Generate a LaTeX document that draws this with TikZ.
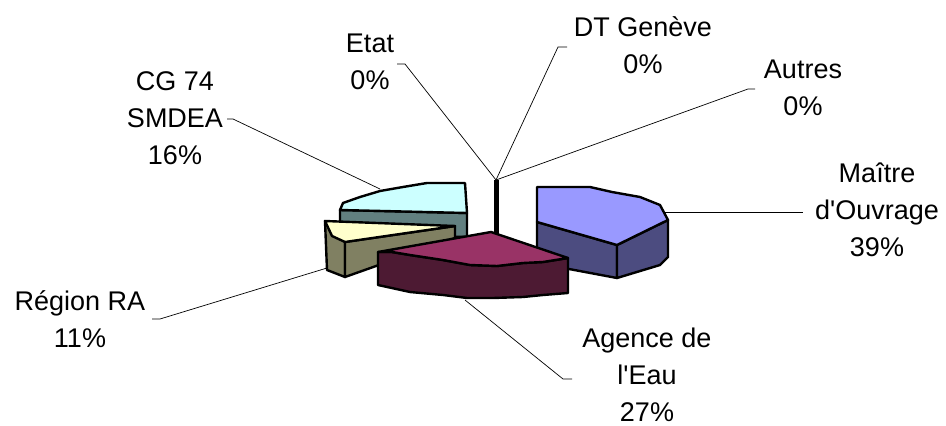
\documentclass[tikz,border=0pt]{standalone}
\usepackage{fontspec}
\setmainfont{Liberation Sans}
\definecolor{maitretop}{HTML}{9999FF}
\definecolor{maitreside}{HTML}{4C4C80}
\definecolor{agencetop}{HTML}{993366}
\definecolor{agenceside}{HTML}{4D1A33}
\definecolor{regiontop}{HTML}{FFFFCC}
\definecolor{regionside}{HTML}{808062}
\definecolor{cgtop}{HTML}{CCFFFF}
\definecolor{cgside}{HTML}{628080}
\tikzset{
  slice/.style={draw=black, line width=2.4pt, line join=round},
  leader/.style={draw=black, line width=0.7pt},
  pielabel/.style={align=center, inner sep=0pt, font=\fontsize{27}{37}\selectfont}
}
\begin{document}
\begin{tikzpicture}[x=1pt, y=-1pt]
	\useasboundingbox (0,0) rectangle (946,426);
	% CG 74 SMDEA
	\draw[slice, fill=cgside] (340,210) -- (467,213) -- (467,237) -- (340,234) -- cycle;
	\draw[slice, fill=cgtop] (340,210) -- (343,203) -- (360,197) -- (380,191) -- (403,187) -- (427,183) -- (465,183) -- (467,213) -- cycle;
	% Region RA
	\draw[slice, fill=regionside] (325,221) -- (345,242) -- (345,277) -- (327,270) -- cycle;
	\draw[slice, fill=regionside] (345,242) -- (455,226) -- (455,238) -- (345,277) -- cycle;
	\draw[slice, fill=regiontop] (325,221) -- (455,226) -- (345,242) -- (332,236) -- cycle;
	% Etat, DT Geneve, Autres
	\draw[black, fill=black] (494,180) rectangle (498,235);
	% Maitre d'Ouvrage
	\draw[slice, fill=maitreside] (537,222) -- (617,245) -- (617,278) -- (537,263) -- cycle;
	\draw[slice, fill=maitreside] (617,245) -- (668,220) -- (668,257) -- (660,265) -- (617,278) -- cycle;
	\draw[slice, fill=maitretop] (537,187) -- (590,187) -- (612,192) -- (640,197) -- (660,205) -- (668,220) -- (617,245) -- (537,222) -- cycle;
	% Agence de l'Eau
	\draw[slice, fill=agenceside] (378,252) -- (392,252) -- (410,255) -- (443,260) -- (470,265) -- (497,266) -- (523,263) -- (543,262) -- (568,258)
		-- (568,293) -- (543,295) -- (523,297) -- (493,298) -- (467,298) -- (443,295) -- (410,292) -- (378,285) -- cycle;
	\draw[slice, fill=agencetop] (378,252) -- (491,232) -- (568,258) -- (543,262) -- (523,263) -- (497,266) -- (470,265) -- (443,260) -- (410,255) -- (392,252) -- cycle;

	% labels
	\node[pielabel] (etat) at (370,62) {Etat\\0\%};
	\node[pielabel] (geneve) at (643,45) {DT Genève\\0\%};
	\node[pielabel] (autres) at (803,88) {Autres\\0\%};
	\node[pielabel] (maitre) at (877,210) {Maître\\d\textquotesingle Ouvrage\\39\%};
	\node[pielabel] (cg) at (175,118) {CG 74\\SMDEA\\16\%};
	\node[pielabel] (region) at (80,319) {Région RA\\11\%};
	\node[pielabel] (agence) at (647,375) {Agence de\\l\textquotesingle Eau\\27\%};

	% leader lines
	\coordinate (bar-top) at (496,180);
	\coordinate (etat-elbow) at (405,64);
	\coordinate (etat-end) at (397,64);
	\coordinate (geneve-elbow) at (558,47);
	\coordinate (geneve-end) at (567,47);
	\coordinate (autres-elbow) at (748,89);
	\coordinate (autres-end) at (755,89);
	\coordinate (maitre-pt) at (663,212);
	\coordinate (maitre-end) at (803,212);
	\coordinate (cg-pt) at (380,189);
	\coordinate (cg-elbow) at (233,119);
	\coordinate (cg-end) at (227,119);
	\coordinate (region-pt) at (327,268);
	\coordinate (region-elbow) at (160,319);
	\coordinate (region-end) at (152,319);
	\coordinate (agence-pt) at (465,300);
	\coordinate (agence-elbow) at (563,379);
	\coordinate (agence-end) at (572,379);
	\draw[leader] (bar-top) -- (etat-elbow) -- (etat-end);
	\draw[leader] (bar-top) -- (geneve-elbow) -- (geneve-end);
	\draw[leader] (bar-top) -- (autres-elbow) -- (autres-end);
	\draw[leader] (maitre-pt) -- (maitre-end);
	\draw[leader] (cg-pt) -- (cg-elbow) -- (cg-end);
	\draw[leader] (region-pt) -- (region-elbow) -- (region-end);
	\draw[leader] (agence-pt) -- (agence-elbow) -- (agence-end);
\end{tikzpicture}
\end{document}
